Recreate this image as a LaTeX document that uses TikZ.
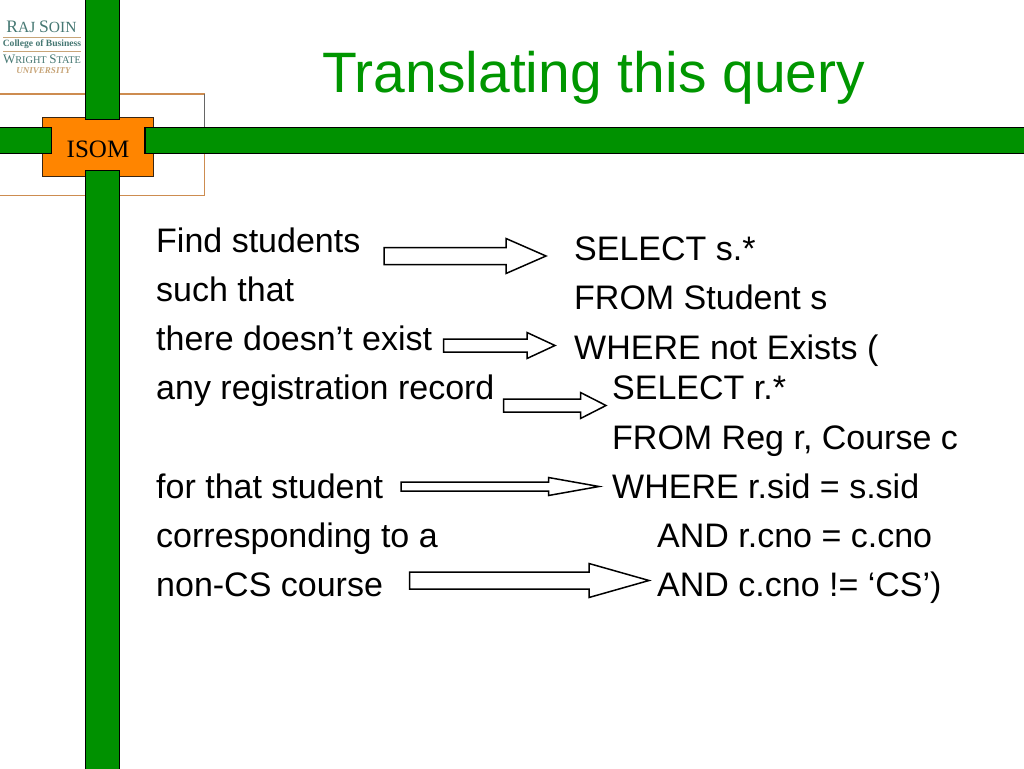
\documentclass[tikz,border=0pt]{standalone}
\usepackage{fontspec}
\setmainfont{Liberation Sans}
\newfontfamily\logofont{Liberation Serif}
\definecolor{barGreen}{RGB}{0,145,0}
\definecolor{titleGreen}{RGB}{0,150,0}
\definecolor{boxOrange}{RGB}{255,133,0}
\definecolor{frameTan}{RGB}{205,140,80}
\definecolor{logoTeal}{RGB}{70,120,115}
\definecolor{logoTan}{RGB}{200,165,120}
\tikzset{
  bar/.style={draw=black, fill=barGreen, line width=1.1pt},
  body/.style={anchor=base west, inner sep=0pt, font=\fontsize{34}{40}\selectfont},
  blockarrow/.style={draw=black, fill=white, line width=1.5pt, line join=miter},
  logotext/.style={anchor=base, inner sep=0pt, text=logoTeal},
}
\newcommand{\blockarrow}[7]{% left, head x, tip, centre y, shaft top, shaft bottom, head half
  \draw[blockarrow] (#1,#5) -- (#2,#5) -- (#2,#4-#7) -- (#3,#4) -- (#2,#4+#7) -- (#2,#6) -- (#1,#6) -- cycle;
}
\begin{document}
\begin{tikzpicture}[x=1pt,y=-1pt]
      \useasboundingbox (0,0) rectangle (1024,768);
      \fill[white] (0,0) rectangle (1024,768);
      % frame, box and bars
      \draw[frameTan, line width=1.6pt] (-2,94) -- (204.5,94);
      \draw[black!60, line width=1.6pt] (204.5,94) -- (204.5,128);
      \draw[frameTan, line width=1.6pt] (204.5,153) -- (204.5,195.5) -- (-2,195.5);
      \draw[draw=black!70!brown, fill=boxOrange, line width=1pt] (42.7,117.3) rectangle (153.3,176.7);
      \draw[bar] (85.3,-2) rectangle (119.3,119.3);
      \draw[bar] (85.3,170.3) rectangle (119.3,770);
      \draw[bar] (-2,127.7) rectangle (51.5,153.3);
      \draw[bar] (145,127.7) rectangle (1026,153.3);
      \node[anchor=base, inner sep=0pt] (isom) at (98,157) {\logofont\fontsize{25}{30}\selectfont ISOM};
      % logo
      \node[logotext] (logoraj) at (41.5,32.5) {\logofont\fontsize{17.5}{20}\selectfont R\fontsize{15.5}{20}\selectfont AJ \fontsize{17.5}{20}\selectfont S\fontsize{15.5}{20}\selectfont OIN};
      \draw[logoTan, line width=0.8pt] (3,37) -- (81,37);
      \node[logotext] (logocollege) at (42,47) {\logofont\bfseries\fontsize{9.6}{12}\selectfont College of Business};
      \draw[logoTan, line width=0.8pt] (3,51.5) -- (81,51.5);
      \node[logotext] (logowright) at (42,63.5) {\logofont\fontsize{13}{16}\selectfont W\fontsize{10.3}{16}\selectfont RIGHT \fontsize{13}{16}\selectfont S\fontsize{10.3}{16}\selectfont TATE};
      \node[logotext, text=logoTan] (logouni) at (43.5,73.5) {\logofont\itshape\bfseries\fontsize{9}{9}\selectfont UNIVERSITY};
      % title
      \node[anchor=base west, inner sep=0pt, text=titleGreen, font=\fontsize{57}{66}\selectfont] (title) at (322,92) {Translating this query};
      % left column
      \node[body] (find) at (156,252) {Find students};
      \node[body] (such) at (156,301) {such that};
      \node[body] (there) at (156,350) {there doesn’t exist};
      \node[body] (any) at (156,399) {any registration record};
      \node[body] (for) at (156,498) {for that student};
      \node[body] (corr) at (156,547) {corresponding to a};
      \node[body] (non) at (156,596) {non-CS course};
      % right column
      \node[body] (select) at (574,260) {SELECT s.*};
      \node[body] (from) at (574,309) {FROM Student s};
      \node[body] (where) at (574,359) {WHERE not Exists (};
      \node[body] (subselect) at (612,399) {SELECT r.*};
      \node[body] (subfrom) at (612,449) {FROM Reg r, Course c};
      \node[body] (subwhere) at (612,498) {WHERE r.sid = s.sid};
      \node[body] (and) at (657,547) {AND r.cno = c.cno};
      \node[body] (andcs) at (657,596) {AND c.cno != ‘CS’)};
      % arrows
      \blockarrow{384}{506}{546}{256}{247.5}{264.5}{17.5}
      \blockarrow{443.5}{527}{555}{345.5}{339}{352}{13}
      \blockarrow{503.5}{580.5}{606}{405.5}{399}{412}{13}
      \blockarrow{401}{548.5}{599}{486.5}{482}{491}{9}
      \blockarrow{409.5}{589}{649}{580.5}{572}{589}{17}
    \end{tikzpicture}
\end{document}
